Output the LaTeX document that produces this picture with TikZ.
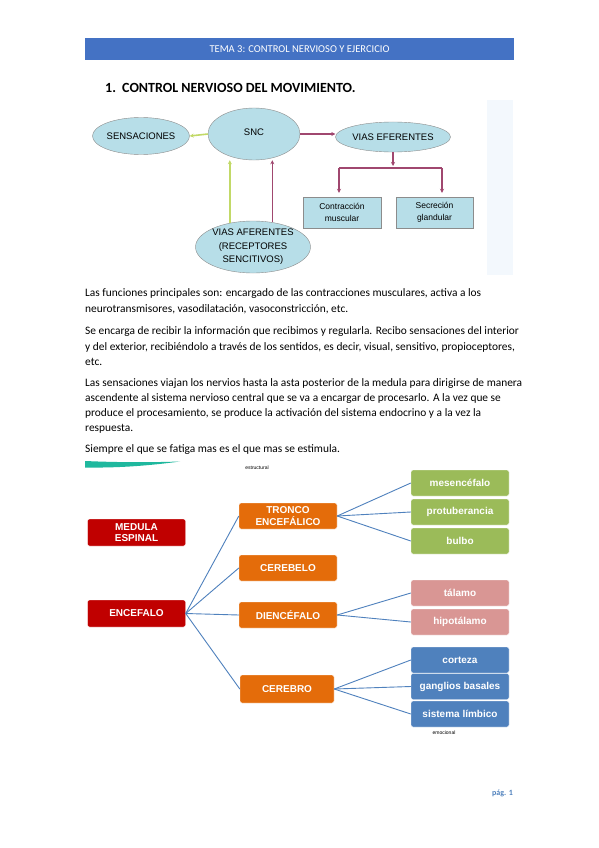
\documentclass[tikz,border=0pt]{standalone}
\usepackage{fontspec}
\setmainfont{Carlito}
\newfontfamily\arialfont{Liberation Sans}
\usepackage{tikz}
\usetikzlibrary{positioning, arrows.meta, shapes.geometric, calc}
\usepackage{xcolor}

\definecolor{headblue}{HTML}{4472C4}
\definecolor{cyanfill}{HTML}{B7DEE8}
\definecolor{ovalline}{HTML}{8C8C8C}
\definecolor{limearrow}{HTML}{C2D967}
\definecolor{plumarrow}{HTML}{A0476F}
\definecolor{boxred}{HTML}{C00000}
\definecolor{boxorange}{HTML}{E46C0A}
\definecolor{boxgreen}{HTML}{9BBB59}
\definecolor{boxpink}{HTML}{D99694}
\definecolor{boxblue}{HTML}{4F81BD}
\definecolor{swoosh}{HTML}{1FB89E}
\definecolor{paleblue}{HTML}{F3F8FD}

\begin{document}
\begin{tikzpicture}[x=1pt, y=-1pt,
    oval/.style={ellipse, draw=ovalline, fill=cyanfill, inner sep=0pt, font=\arialfont\fontsize{9.5}{13.5}\selectfont, align=center},
    flatbox/.style={rectangle, draw=ovalline, fill=cyanfill, inner sep=0pt, minimum width=78, minimum height=31, font=\arialfont\fontsize{8.5}{11.5}\selectfont, align=center},
    greenline/.style={draw=limearrow, line width=1.6pt, -{Stealth[length=4pt, width=4pt]}},
    plumline/.style={draw=plumarrow, line width=1.3pt},
    bodytext/.style={anchor=base west, inner sep=0pt, font=\fontsize{11.4}{13}\selectfont},
    mapbox/.style={rectangle, rounded corners=2pt, draw=white, inner sep=0pt, minimum width=98, minimum height=26, text=white, font=\arialfont\bfseries\fontsize{10}{11.5}\selectfont, align=center},
    branch/.style={draw=boxblue, line width=0.9pt},
    tiny/.style={inner sep=0pt, font=\arialfont\fontsize{5}{6}\selectfont}]
\useasboundingbox (0,0) rectangle (599,848);
\fill[white] (0,0) rectangle (599,848);

% Header
\node[fill=headblue, minimum width=429, minimum height=22, inner sep=0pt, text=white, font=\fontsize{10.5}{12}\selectfont] (header) at (299.5,49) {TEMA 3: CONTROL NERVIOSO Y EJERCICIO};
\node[anchor=base west, inner sep=0pt, font=\bfseries\fontsize{14}{16}\selectfont] (title) at (105,93) {\makebox[17pt][l]{1.}CONTROL NERVIOSO DEL MOVIMIENTO.};

% Faint mark on the right
\fill[paleblue] (487,100) rectangle (513,275);

% Control nervioso
\node[oval, minimum width=93, minimum height=37] (sens) at (141,136) {SENSACIONES};
\node[oval, minimum width=92, minimum height=52] (snc) at (254,134) {\raisebox{4pt}{SNC}};
\node[oval, minimum width=93, minimum height=30] (efer) at (393,137) {VIAS EFERENTES};
\node[oval, minimum width=110, minimum height=52] (afer) at (253,247) {VIAS AFERENTES\\(RECEPTORES\\SENCITIVOS)};
\node[flatbox] (contr) at (342,212.5) {Contracción\\muscular};
\node[flatbox, minimum width=77] (secr) at (434.5,212.5) {Secreción\\glandular};

\coordinate (forkM) at (393,166);
\coordinate (forkL) at (339,168);
\coordinate (forkR) at (442,168);

\draw[greenline] (snc.west) -- (sens.east);
\draw[greenline] (afer.134) -- (afer.134 |- snc.south);
\draw[plumline, -{Stealth[length=4pt, width=4pt]}] (afer.52) -- (afer.52 |- snc.south);
\draw[plumline, -{Stealth[length=4pt, width=4pt]}] (snc.east) -- (snc.east -| efer.west);
\draw[plumline, -{Stealth[length=4pt, width=4pt]}] (efer.south) -- (forkM);
\draw[plumline] (forkL) -- (forkR);
\draw[plumline, -{Stealth[length=4pt, width=4pt]}, shorten >=4pt] (forkL) -- (forkL |- contr.north);
\draw[plumline, -{Stealth[length=4pt, width=4pt]}, shorten >=4pt] (forkR) -- (forkR |- secr.north);

% Texto
\node[bodytext] (p1a) at (85,296) {Las funciones principales son: encargado de las contracciones musculares, activa a los};
\node[bodytext] (p1b) at (85,312) {neurotransmisores, vasodilatación, vasoconstricción, etc.};
\node[bodytext] (p2a) at (85,334) {Se encarga de recibir la información que recibimos y regularla. Recibo sensaciones del interior};
\node[bodytext] (p2b) at (85,350) {y del exterior, recibiéndolo a través de los sentidos, es decir, visual, sensitivo, propioceptores,};
\node[bodytext] (p2c) at (85,365) {etc.};
\node[bodytext] (p3a) at (85,386) {Las sensaciones viajan los nervios hasta la asta posterior de la medula para dirigirse de manera};
\node[bodytext] (p3b) at (85,401) {ascendente al sistema nervioso central que se va a encargar de procesarlo. A la vez que se};
\node[bodytext] (p3c) at (85,416) {produce el procesamiento, se produce la activación del sistema endocrino y a la vez la};
\node[bodytext] (p3d) at (85,431) {respuesta.};
\node[bodytext] (p4) at (85,452) {Siempre el que se fatiga mas es el que mas se estimula.};

% Mapa del sistema nervioso
\fill[swoosh] (85,461) .. controls (120,462.5) and (150,462.5) .. (180,461.5) .. controls (150,465.5) and (120,468) .. (85,467.5) -- cycle;
\node[tiny] (estr) at (257,468) {estructural};

\node[mapbox, fill=boxred, minimum height=27] (medula) at (136.5,532.5) {MEDULA\\ESPINAL};
\node[mapbox, fill=boxred, minimum height=27] (encef) at (136.5,613.5) {ENCEFALO};

\node[mapbox, fill=boxorange] (tronco) at (288,516) {TRONCO\\ENCEFÁLICO};
\node[mapbox, fill=boxorange] (cerebelo) at (288,568) {CEREBELO};
\node[mapbox, fill=boxorange] (dienc) at (288,615) {DIENCÉFALO};
\node[mapbox, fill=boxorange, minimum width=94, minimum height=28] (cerebro) at (287,689) {CEREBRO};

\node[mapbox, fill=boxgreen] (mesen) at (460,483) {mesencéfalo};
\node[mapbox, fill=boxgreen] (protu) at (460,512) {protuberancia};
\node[mapbox, fill=boxgreen] (bulbo) at (460,541) {bulbo};
\node[mapbox, fill=boxpink] (talamo) at (460,593) {tálamo};
\node[mapbox, fill=boxpink] (hipot) at (460,622) {hipotálamo};
\node[mapbox, fill=boxblue] (corteza) at (460,660) {corteza};
\node[mapbox, fill=boxblue] (ganglios) at (460,686.5) {ganglios basales};
\node[mapbox, fill=boxblue] (limbico) at (460,714) {sistema límbico};
\node[tiny] (emoc) at (444,733) {emocional};

\foreach \b in {tronco, cerebelo, dienc, cerebro}
    \draw[branch] (encef.east) -- (\b.west);
\foreach \b in {mesen, protu, bulbo}
    \draw[branch] (tronco.east) -- (\b.west);
\foreach \b in {talamo, hipot}
    \draw[branch] (dienc.east) -- (\b.west);
\foreach \b in {corteza, ganglios, limbico}
    \draw[branch] (cerebro.east) -- (\b.west);

% Pie
\node[anchor=base east, inner sep=0pt, text=boxblue, font=\bfseries\fontsize{8}{10}\selectfont] (pag) at (513,795) {pág. 1};
\end{tikzpicture}
\end{document}
